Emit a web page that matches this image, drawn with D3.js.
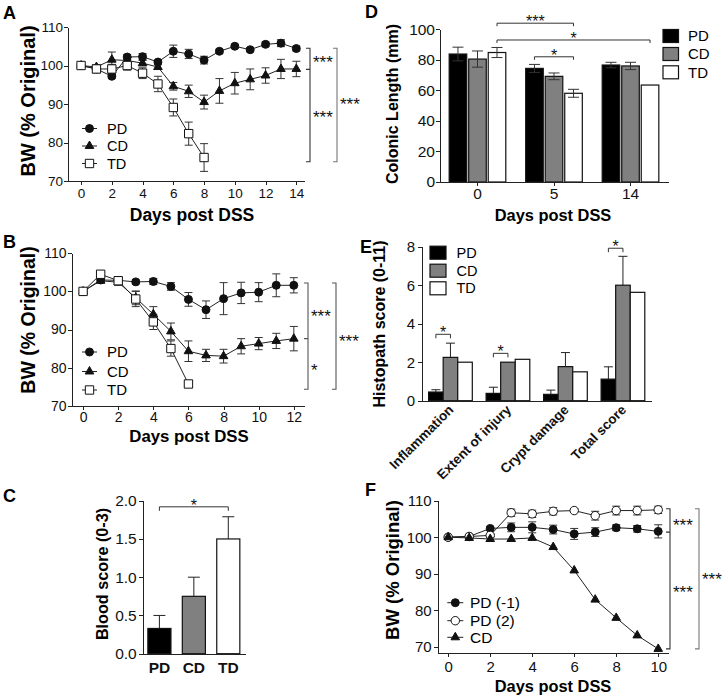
<!DOCTYPE html>
<html>
<head>
<script src="https://d3js.org/d3.v7.min.js"></script>
<style>
body { margin: 0; background: #fff; }
svg { display: block; font-family: "Liberation Sans", Arial, Helvetica, sans-serif; }
.axis path, .axis line { fill: none; stroke: #222; stroke-width: 1px; shape-rendering: crispEdges; }
.axis text { fill: #111; }
</style>
</head>
<body>
<div id="canvas"></div>
<script>
var FONT = "'Liberation Sans', Arial, Helvetica, sans-serif";

// A - body weight, 14 days
var daysA   = [0, 1, 2, 3, 4, 5, 6, 7, 8, 9, 10, 11, 12, 13, 14];
var pdA     = [100, 99.1, 97.2, 102.2, 102.3, 100.9, 103.7, 103.0, 101.4, 103.7, 105.0, 104.1, 105.5, 105.8, 104.4];
var pdAErr  = [0, 0.8, 0.5, 0.6, 0.8, 0.4, 1.6, 1.2, 1.0, 0.5, 0.5, 0.5, 0.6, 0.9, 0.6];
var cdA     = [100, 99.6, 101.5, 101.3, 100.6, 99.6, 94.6, 93.3, 90.5, 93.4, 95.4, 96.4, 97.4, 99.1, 99.1];
var cdAErr  = [0, 0.6, 2.0, 0.8, 0.7, 0.6, 1.0, 1.6, 1.8, 3.2, 2.8, 2.7, 2.0, 2.5, 2.0];
var daysTdA = [0, 1, 2, 3, 4, 5, 6, 7, 8];
var tdA     = [100, 99.1, 99.1, 100.0, 98.0, 95.2, 89.1, 82.3, 76.1];
var tdAErr  = [0, 1.0, 1.2, 1.2, 1.4, 2.0, 2.2, 3.0, 3.6];

// B - body weight, 12 days
var daysB   = [0, 1, 2, 3, 4, 5, 6, 7, 8, 9, 10, 11, 12];
var pdB     = [100, 103.0, 102.9, 102.5, 102.6, 101.3, 97.9, 95.2, 98.1, 99.6, 99.8, 101.6, 101.6];
var pdBErr  = [0, 0.5, 1.0, 0.5, 0.8, 1.0, 1.8, 2.3, 4.2, 2.8, 2.5, 3.0, 2.0];
var cdB     = [100, 102.8, 102.4, 98.3, 94.0, 89.5, 84.3, 83.2, 83.0, 85.6, 86.3, 87.0, 87.6];
var cdBErr  = [0, 0.5, 0.8, 1.8, 2.0, 2.2, 2.7, 1.6, 1.8, 2.0, 1.6, 2.0, 3.2];
var daysTdB = [0, 1, 2, 3, 4, 5, 6];
var tdB     = [100, 104.5, 102.8, 98.0, 92.0, 85.0, 75.7];
var tdBErr  = [0, 0.5, 0.8, 2.0, 2.0, 2.0, 0.8];

// C - blood score
var groupNames = ["PD", "CD", "TD"];
var bloodScore = [0.33, 0.75, 1.5];
var bloodErr   = [0.17, 0.25, 0.29];

// D - colonic length
var daysD      = ["0", "5", "14"];
var colonPD    = [83.8, 74.4, 76.6];
var colonPDErr = [4.5, 2.6, 1.8];
var colonCD    = [80.5, 69.2, 76.0];
var colonCDErr = [5.3, 2.2, 2.4];
var colonTD    = [84.8, 58.1, 63.5];
var colonTDErr = [3.3, 2.6, 0];

// E - histopath score
var histoCats  = ["Inflammation", "Extent of injury", "Crypt damage", "Total score"];
var histoPD    = [0.45, 0.38, 0.33, 1.12];
var histoPDErr = [0.12, 0.32, 0.22, 0.64];
var histoCD    = [2.25, 2.0, 1.77, 6.0];
var histoCDErr = [0.74, 0, 0.73, 1.5];
var histoTD    = [2.0, 2.15, 1.5, 5.63];
var histoTDErr = [0, 0, 0, 0];

// F - body weight, 10 days
var daysF     = [0, 1, 2, 3, 4, 5, 6, 7, 8, 9, 10];
var pdm1F     = [100, 100.2, 102.4, 102.7, 102.7, 102.1, 100.9, 101.4, 102.6, 102.3, 101.6];
var pdm1FErr  = [0, 0.3, 0.4, 1.2, 1.5, 1.2, 1.5, 1.2, 0.8, 0.9, 1.8];
var pd2F      = [100, 100.2, 100.5, 106.7, 106.4, 107.1, 107.3, 105.9, 107.3, 107.3, 107.5];
var pd2FErr   = [0, 0.3, 0.4, 1.0, 1.0, 1.0, 0.5, 1.2, 1.2, 1.2, 1.0];
var cdF       = [100, 99.8, 99.5, 99.5, 99.8, 97.3, 90.9, 82.9, 77.9, 73.1, 69.4];
var cdFErr    = [0, 0, 0, 0, 0, 0, 0, 0, 0, 0, 0];

var groupFill = ["#000000", "#808080", "#ffffff"];

var svg = d3.select("#canvas").append("svg")
    .attr("width", 728).attr("height", 700);

var markers = {
    circle:     { type: d3.symbolCircle,   size: 50, fill: "#111" },
    openCircle: { type: d3.symbolCircle,   size: 56, fill: "#fff" },
    triangle:   { type: d3.symbolTriangle, size: 32, fill: "#111" },
    square:     { type: d3.symbolSquare,   size: 70, fill: "#fff" }
};

function drawMarker(g, kind, x, y) {
    var m = markers[kind];
    g.append("path")
        .attr("d", d3.symbol().type(m.type).size(m.size)())
        .attr("transform", "translate(" + x + "," + y + ")")
        .attr("fill", m.fill)
        .attr("stroke", "#111")
        .attr("stroke-width", 1);
}

function styleAxis(sel, fs) {
    sel.attr("font-family", FONT).attr("font-size", fs);
}

function yTitle(g, txt, x, cy, fs) {
    g.append("text")
        .attr("transform", "translate(" + x + "," + cy + ") rotate(-90)")
        .attr("text-anchor", "middle")
        .attr("font-weight", "bold")
        .attr("font-size", fs)
        .text(txt);
}

function xTitle(g, txt, cx, y, fs) {
    g.append("text")
        .attr("x", cx).attr("y", y)
        .attr("text-anchor", "middle")
        .attr("font-weight", "bold")
        .attr("font-size", fs)
        .text(txt);
}

function panelLetter(txt, x, y) {
    svg.append("text").attr("x", x).attr("y", y)
        .attr("font-weight", "bold").attr("font-size", 18).text(txt);
}

function stars(g, x, cy, txt, fs, anchor) {
    g.append("text")
        .attr("x", x).attr("y", cy + 0.56 * fs)
        .attr("text-anchor", anchor || "start")
        .attr("font-size", fs)
        .attr("fill", "#111")
        .text(txt);
}

// vertical bracket on the right of a line plot
function vBracket(g, x, y1, y2, midY, color) {
    var p = "M" + (x - 4) + "," + y1 + "H" + x + "V" + y2 + "H" + (x - 4);
    if (midY != null) p += "M" + (x - 4) + "," + midY + "H" + x;
    g.append("path").attr("d", p).attr("fill", "none")
        .attr("stroke", color).attr("stroke-width", 1.1);
}

// horizontal bracket above bars
function hBracket(g, x1, x2, y, drop) {
    g.append("path")
        .attr("d", "M" + x1 + "," + (y + drop) + "V" + y + "H" + x2 + "V" + (y + drop))
        .attr("fill", "none").attr("stroke", "#333").attr("stroke-width", 1);
}

function errBar(g, x, y1, y2, cap) {
    g.append("path")
        .attr("d", "M" + x + "," + y1 + "V" + y2 +
                   "M" + (x - cap / 2) + "," + y1 + "H" + (x + cap / 2) +
                   "M" + (x - cap / 2) + "," + y2 + "H" + (x + cap / 2))
        .attr("fill", "none").attr("stroke", "#333").attr("stroke-width", 1);
}

function linePanel(o) {
    var g = svg.append("g");
    var x = d3.scaleLinear().domain(o.xDomain).range(o.xRange);
    var y = d3.scaleLinear().domain(o.yDomain).range(o.yRange);

    g.append("g").attr("class", "axis")
        .attr("transform", "translate(0," + o.yRange[0] + ")")
        .call(d3.axisBottom(x).tickValues(o.xTicks).tickSize(4).tickPadding(o.xPad).tickSizeOuter(0))
        .call(styleAxis, o.tickFont);
    g.append("g").attr("class", "axis")
        .attr("transform", "translate(" + o.xRange[0] + ",0)")
        .call(d3.axisLeft(y).tickValues(o.yTicks).tickSize(4).tickPadding(o.yPad).tickSizeOuter(0))
        .call(styleAxis, o.tickFont);

    var line = d3.line().x(function(p) { return x(p.d); }).y(function(p) { return y(p.v); });
    var all = o.series.map(function(s) {
        return s.days.map(function(d, i) { return { d: d, v: s.vals[i], e: s.errs[i] }; });
    });
    all.forEach(function(pts) {
        g.append("path").datum(pts).attr("fill", "none")
            .attr("stroke", "#222").attr("stroke-width", 1).attr("d", line);
    });
    all.forEach(function(pts) {
        pts.forEach(function(p) {
            if (p.e > 0) errBar(g, x(p.d), y(p.v - p.e), y(p.v + p.e), 8);
        });
    });
    all.forEach(function(pts, k) {
        pts.forEach(function(p) { drawMarker(g, o.series[k].marker, x(p.d), y(p.v)); });
    });

    // legend
    o.series.forEach(function(s, i) {
        var ly = o.legend.y[i];
        g.append("line").attr("x1", o.legend.x1).attr("x2", o.legend.x2)
            .attr("y1", ly).attr("y2", ly).attr("stroke", "#222");
        drawMarker(g, s.marker, (o.legend.x1 + o.legend.x2) / 2, ly);
        g.append("text").attr("x", o.legend.tx).attr("y", ly).attr("dy", "0.35em")
            .attr("font-size", o.legend.fs).text(s.name);
    });
    return { g: g, x: x, y: y };
}

// ---------- Panel A ----------
var pA = linePanel({
    xDomain: [-0.85, 14.5], xRange: [68, 304],
    yDomain: [70, 110], yRange: [181, 27],
    xTicks: [0, 2, 4, 6, 8, 10, 12, 14], yTicks: [70, 80, 90, 100, 110],
    xPad: 3, yPad: 1, tickFont: 13.5,
    series: [
        { name: "PD", days: daysA, vals: pdA, errs: pdAErr, marker: "circle" },
        { name: "CD", days: daysA, vals: cdA, errs: cdAErr, marker: "triangle" },
        { name: "TD", days: daysTdA, vals: tdA, errs: tdAErr, marker: "square" }
    ],
    legend: { x1: 82, x2: 97, tx: 107, y: [128.5, 146, 163.5], fs: 14.5 }
});
yTitle(pA.g, "BW (% Original)", 35, 101, 20);
xTitle(pA.g, "Days post DSS", 192, 221, 17.5);
vBracket(pA.g, 310, pA.y(104.5), pA.y(75), pA.y(99), "#333");
vBracket(pA.g, 337, pA.y(104.5), pA.y(75), null, "#777");
stars(pA.g, 313, 58.5, "***", 17);
stars(pA.g, 313, 113, "***", 17);
stars(pA.g, 340, 100, "***", 17);
panelLetter("A", 3, 19);

// ---------- Panel B ----------
var pB = linePanel({
    xDomain: [-0.66, 12.58], xRange: [71.5, 304],
    yDomain: [70, 110], yRange: [405.7, 253.3],
    xTicks: [0, 2, 4, 6, 8, 10, 12], yTicks: [70, 80, 90, 100, 110],
    xPad: 2.5, yPad: 1, tickFont: 14,
    series: [
        { name: "PD", days: daysB, vals: pdB, errs: pdBErr, marker: "circle" },
        { name: "CD", days: daysB, vals: cdB, errs: cdBErr, marker: "triangle" },
        { name: "TD", days: daysTdB, vals: tdB, errs: tdBErr, marker: "square" }
    ],
    legend: { x1: 82, x2: 97, tx: 107, y: [352, 371.5, 390], fs: 15 }
});
yTitle(pB.g, "BW (% Original)", 35, 320, 19.5);
xTitle(pB.g, "Days post DSS", 189, 442, 16.8);
vBracket(pB.g, 308, pB.y(102.2), pB.y(74.3), pB.y(87.6), "#555");
vBracket(pB.g, 336, pB.y(102.2), pB.y(74.3), null, "#555");
stars(pB.g, 311, 312, "***", 17);
stars(pB.g, 311, 366, "*", 17);
stars(pB.g, 339, 337, "***", 17);
panelLetter("B", 3, 248);

// ---------- Panel C ----------
var gC = svg.append("g");
var xC = d3.scaleBand().domain(groupNames).range([142.7, 245]).paddingInner(0.33).paddingOuter(0.15);
var yC = d3.scaleLinear().domain([0, 2]).range([653.7, 500.7]);
gC.selectAll("rect.bar").data(bloodScore).enter().append("rect")
    .attr("x", function(d, i) { return xC(groupNames[i]); })
    .attr("y", function(d) { return yC(d); })
    .attr("width", xC.bandwidth())
    .attr("height", function(d) { return yC(0) - yC(d); })
    .attr("fill", function(d, i) { return groupFill[i]; })
    .attr("stroke", "#111").attr("stroke-width", 1.2);
bloodScore.forEach(function(v, i) {
    var cx = xC(groupNames[i]) + xC.bandwidth() / 2;
    gC.append("path").attr("d", "M" + cx + "," + yC(v) + "V" + yC(v + bloodErr[i]) +
        "M" + (cx - 6) + "," + yC(v + bloodErr[i]) + "H" + (cx + 6))
        .attr("stroke", "#222").attr("fill", "none");
});
gC.append("g").attr("class", "axis")
    .attr("transform", "translate(0," + yC(0) + ")")
    .call(d3.axisBottom(xC).tickSize(0).tickPadding(8).tickSizeOuter(0))
    .call(styleAxis, 15.5)
    .selectAll("text").attr("font-weight", "bold");
gC.append("g").attr("class", "axis")
    .attr("transform", "translate(142.7,0)")
    .call(d3.axisLeft(yC).tickValues([0, 0.5, 1, 1.5, 2]).tickFormat(d3.format(".1f"))
        .tickSize(4).tickPadding(2).tickSizeOuter(0))
    .call(styleAxis, 15.5);
yTitle(gC, "Blood score (0-3)", 108, 574, 16.2);
var cPD = xC("PD") + xC.bandwidth() / 2, cTD = xC("TD") + xC.bandwidth() / 2;
hBracket(gC, cPD, cTD, yC(1.92), 4);
stars(gC, (cPD + cTD) / 2, yC(1.92) - 5, "*", 16, "middle");
panelLetter("C", 3, 502);

// ---------- grouped bars (D and E) ----------
function groupedBars(o) {
    var g = svg.append("g");
    var x0 = d3.scaleBand().domain(o.cats).range(o.xRange)
        .paddingInner(o.padIn).paddingOuter(o.padOut);
    var x1 = d3.scaleBand().domain(groupNames).range([0, x0.bandwidth()]).paddingInner(o.barGap);
    var y = d3.scaleLinear().domain(o.yDomain).range(o.yRange);
    o.series.forEach(function(s, k) {
        s.vals.forEach(function(v, i) {
            var bx = x0(o.cats[i]) + x1(groupNames[k]);
            g.append("rect").attr("x", bx).attr("y", y(v))
                .attr("width", x1.bandwidth()).attr("height", y(0) - y(v))
                .attr("fill", groupFill[k]).attr("stroke", "#111").attr("stroke-width", 1.2);
            var e = s.errs[i];
            if (e > 0) {
                var cx = bx + x1.bandwidth() / 2;
                if (o.twoSided) errBar(g, cx, y(v - e), y(v + e), o.cap);
                else g.append("path").attr("d", "M" + cx + "," + y(v) + "V" + y(v + e) +
                        "M" + (cx - o.cap / 2) + "," + y(v + e) + "H" + (cx + o.cap / 2))
                        .attr("stroke", "#222").attr("fill", "none");
            }
        });
    });
    var xa = g.append("g").attr("class", "axis")
        .attr("transform", "translate(0," + o.yRange[0] + ")")
        .call(d3.axisBottom(x0).tickSize(o.xTick).tickPadding(2).tickSizeOuter(0))
        .call(styleAxis, o.tickFont);
    g.append("g").attr("class", "axis")
        .attr("transform", "translate(" + o.xRange[0] + ",0)")
        .call(d3.axisLeft(y).tickValues(o.yTicks).tickSize(4).tickPadding(o.yPad).tickSizeOuter(0))
        .call(styleAxis, o.tickFont);
    // legend
    groupNames.forEach(function(n, k) {
        var ly = o.legend.y[k];
        g.append("rect").attr("x", o.legend.x).attr("y", ly - 6.5)
            .attr("width", o.legend.w).attr("height", 13)
            .attr("fill", groupFill[k]).attr("stroke", "#111").attr("stroke-width", 1.2);
        g.append("text").attr("x", o.legend.tx).attr("y", ly).attr("dy", "0.35em")
            .attr("font-size", o.legend.fs).text(n);
    });
    function center(cat, grp) { return x0(cat) + x1(grp) + x1.bandwidth() / 2; }
    return { g: g, y: y, xa: xa, center: center };
}

// ---------- Panel D ----------
var pD = groupedBars({
    cats: daysD, xRange: [440, 668], padIn: 0.26, padOut: 0.12, barGap: 0.1,
    yDomain: [0, 100], yRange: [182, 29.3], yTicks: [0, 20, 40, 60, 80, 100],
    series: [
        { vals: colonPD, errs: colonPDErr },
        { vals: colonCD, errs: colonCDErr },
        { vals: colonTD, errs: colonTDErr }
    ],
    twoSided: true, cap: 11, xTick: 4, yPad: 1, tickFont: 15.5,
    legend: { x: 663, w: 15.5, tx: 688, y: [36, 54, 72.3], fs: 15 }
});
yTitle(pD.g, "Colonic Length (mm)", 398, 104, 16);
xTitle(pD.g, "Days post DSS", 553, 220.5, 16.4);
[[daysD[0], daysD[1], "TD", "TD", 104, "***"],
 [daysD[0], daysD[2], "TD", "TD", 93, "*"],
 [daysD[1], daysD[1], "PD", "TD", 82, "*"]].forEach(function(b) {
    var x1 = pD.center(b[0], b[2]), x2 = pD.center(b[1], b[3]);
    hBracket(pD.g, x1, x2, pD.y(b[4]), 3);
    stars(pD.g, (x1 + x2) / 2, pD.y(b[4]) - 5, b[5], 16, "middle");
});
panelLetter("D", 365, 18);

// ---------- Panel E ----------
var pE = groupedBars({
    cats: histoCats, xRange: [421.7, 651.7], padIn: 0.24, padOut: 0.12, barGap: 0,
    yDomain: [0, 8], yRange: [400.7, 246.7], yTicks: [0, 2, 4, 6, 8],
    series: [
        { vals: histoPD, errs: histoPDErr },
        { vals: histoCD, errs: histoCDErr },
        { vals: histoTD, errs: histoTDErr }
    ],
    twoSided: false, cap: 9, xTick: 0, yPad: 2.5, tickFont: 15,
    legend: { x: 430, w: 16, tx: 456.5, y: [252.7, 270.7, 288.3], fs: 14.5 }
});
pE.xa.selectAll("text")
    .attr("x", 0).attr("y", 0).attr("dy", 0)
    .attr("text-anchor", "end")
    .attr("font-weight", "bold")
    .attr("font-size", 13.5)
    .attr("transform", "translate(4,10) rotate(-45)");
yTitle(pE.g, "Histopath score (0-11)", 385, 324, 16);
[[histoCats[0], 3.45], [histoCats[1], 2.46], [histoCats[3], 7.92]].forEach(function(b) {
    var x1 = pE.center(b[0], "PD"), x2 = pE.center(b[0], "CD");
    hBracket(pE.g, x1, x2, pE.y(b[1]), 4);
    stars(pE.g, (x1 + x2) / 2, pE.y(b[1]) - 5.5, "*", 16, "middle");
});
panelLetter("E", 360, 253);

// ---------- Panel F ----------
var pF = linePanel({
    xDomain: [-0.5, 10.48], xRange: [437.7, 668.3],
    yDomain: [68.2, 110], yRange: [653.3, 500.7],
    xTicks: [0, 2, 4, 6, 8, 10], yTicks: [70, 80, 90, 100, 110],
    xPad: 4.5, yPad: 2, tickFont: 15,
    series: [
        { name: "PD (-1)", days: daysF, vals: pdm1F, errs: pdm1FErr, marker: "circle" },
        { name: "PD (2)", days: daysF, vals: pd2F, errs: pd2FErr, marker: "openCircle" },
        { name: "CD", days: daysF, vals: cdF, errs: cdFErr, marker: "triangle" }
    ],
    legend: { x1: 447.3, x2: 463.3, tx: 470, y: [602.7, 620.7, 637.3], fs: 15.5 }
});
yTitle(pF.g, "BW (% Original)", 399, 570, 18.5);
xTitle(pF.g, "Days post DSS", 553, 692, 16.4);
vBracket(pF.g, 670, pF.y(107.8), pF.y(69.4), pF.y(101.4), "#333");
vBracket(pF.g, 699, pF.y(107.8), pF.y(69.4), null, "#777");
stars(pF.g, 673, 521, "***", 17);
stars(pF.g, 673, 588, "***", 17);
stars(pF.g, 702, 575, "***", 17);
panelLetter("F", 365, 496);
</script>
</body>
</html>
